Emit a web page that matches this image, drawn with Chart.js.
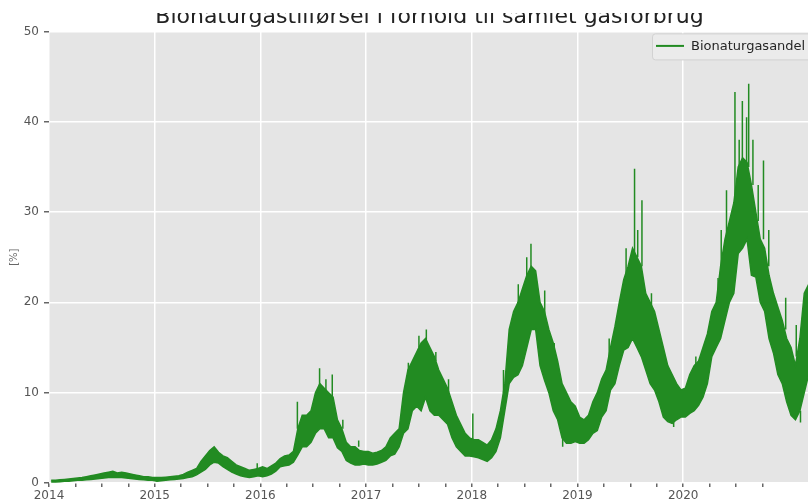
<!DOCTYPE html>
<html>
<head>
<meta charset="utf-8">
<script src="https://cdn.jsdelivr.net/npm/chart.js@4.4.1/dist/chart.umd.min.js"></script>
<style>
    html, body { margin: 0; padding: 0; background: #fff; overflow: hidden; }
    #wrap { position: relative; width: 808px; height: 503px; overflow: hidden; }
    /* the reference screenshot cuts off the top of the title */
    #titleMask { position: absolute; left: 0; top: 0; width: 808px; height: 13px; background: #fff; }
</style>
</head>
<body>
<div id="wrap">
    <canvas id="bioChart" width="812" height="503"></canvas>
    <div id="titleMask"></div>
</div>
<script>
const chartTitle = 'Bionaturgastilførsel i forhold til samlet gasforbrug';
const seriesLabel = 'Bionaturgasandel';
const yAxisLabel = '[%]';

// x axis in decimal years, right edge is cut a little after 2021
const xMin = 2014;
const xMax = 2021.2;
const yTicks = [0, 10, 20, 30, 40, 50];

// share in %, read per half month: bottom and top of the dense daily band
const years = [2014, 2015, 2016, 2017, 2018, 2019, 2020, 2021];

const lo2014 = [0.1, 0.1, 0.15, 0.2, 0.2, 0.25, 0.3, 0.3, 0.35, 0.4, 0.45, 0.5, 0.55, 0.6, 0.6, 0.6, 0.6, 0.55, 0.5, 0.45, 0.4, 0.35, 0.3, 0.3];
const hi2014 = [0.3, 0.3, 0.35, 0.4, 0.45, 0.5, 0.55, 0.6, 0.7, 0.8, 0.9, 1.0, 1.1, 1.2, 1.3, 1.1, 1.2, 1.1, 1.0, 0.9, 0.8, 0.7, 0.7, 0.6];

const lo2015 = [0.2, 0.25, 0.3, 0.35, 0.4, 0.45, 0.5, 0.6, 0.7, 0.9, 1.2, 1.5, 2.0, 2.3, 2.2, 1.8, 1.5, 1.2, 1.0, 0.8, 0.7, 0.6, 0.7, 0.8];
const hi2015 = [0.6, 0.6, 0.65, 0.7, 0.75, 0.8, 0.95, 1.2, 1.4, 1.6, 2.4, 3.0, 3.6, 4.0, 3.4, 3.0, 2.8, 2.4, 2.0, 1.8, 1.6, 1.4, 1.5, 1.6];

const lo2016 = [0.7, 0.8, 1.0, 1.3, 1.8, 1.9, 2.0, 2.3, 3.1, 4.0, 4.0, 4.5, 5.5, 6.0, 6.0, 5.0, 5.0, 3.9, 3.5, 2.5, 2.2, 2.0, 2.0, 2.1];
const hi2016 = [1.8, 1.6, 1.9, 2.2, 2.7, 3.0, 3.1, 3.5, 6.0, 7.5, 7.5, 8.0, 10.0, 11.0, 10.5, 10.0, 9.5, 7.0, 6.0, 4.5, 4.0, 4.0, 3.6, 3.5];

const lo2017 = [2.0, 2.0, 2.1, 2.3, 2.5, 3.0, 3.2, 4.0, 5.5, 6.0, 8.0, 8.5, 8.0, 9.5, 8.0, 7.5, 7.5, 7.0, 6.5, 5.0, 4.0, 3.5, 3.0, 3.0];
const hi2017 = [3.5, 3.3, 3.4, 3.6, 4.0, 5.0, 5.5, 6.0, 10.0, 12.5, 13.5, 14.5, 15.5, 16.0, 15.0, 14.0, 12.5, 11.5, 10.5, 9.0, 7.5, 6.5, 5.5, 5.0];

const lo2018 = [2.9, 2.8, 2.6, 2.4, 2.8, 3.5, 5.0, 8.0, 11.0, 11.7, 12.0, 13.0, 15.0, 17.0, 17.0, 13.0, 11.4, 10.0, 8.0, 7.0, 5.0, 4.4, 4.4, 4.6];
const hi2018 = [4.8, 4.8, 4.5, 4.2, 4.8, 6.0, 8.0, 11.0, 17.0, 19.0, 20.0, 21.5, 23.0, 24.0, 23.5, 20.0, 19.0, 17.0, 15.5, 13.5, 11.0, 10.0, 9.0, 8.5];

const lo2019 = [4.4, 4.4, 4.8, 5.5, 5.8, 7.3, 8.0, 10.3, 11.0, 13.0, 14.7, 15.0, 16.0, 15.0, 14.0, 12.5, 11.0, 10.3, 9.0, 7.3, 6.8, 6.6, 7.0, 7.3];
const hi2019 = [7.3, 7.0, 7.5, 9.0, 10.0, 11.5, 12.5, 15.0, 17.3, 20.0, 22.5, 24.0, 26.0, 25.0, 24.0, 21.0, 20.0, 19.0, 17.0, 15.0, 13.0, 12.0, 11.0, 10.3];

const lo2020 = [7.3, 7.7, 8.0, 8.6, 9.5, 11.0, 14.0, 15.0, 16.0, 18.0, 20.0, 21.0, 25.4, 26.0, 27.0, 23.0, 22.8, 20.0, 19.0, 16.0, 14.4, 12.0, 11.0, 9.0];
const hi2020 = [10.5, 12.0, 13.0, 13.5, 15.0, 16.5, 19.0, 20.0, 24.0, 27.0, 29.0, 31.0, 35.0, 36.0, 35.5, 33.0, 30.0, 27.0, 26.0, 23.0, 21.0, 19.5, 18.0, 16.0];

const lo2021 = [7.5, 7.0, 8.0, 10.0, 12.0];
const hi2021 = [15.0, 13.0, 16.0, 21.0, 22.0];

const lows = [lo2014, lo2015, lo2016, lo2017, lo2018, lo2019, lo2020, lo2021];
const highs = [hi2014, hi2015, hi2016, hi2017, hi2018, hi2019, hi2020, hi2021];

// single days that stick out of the band (from band edge to the day's value)
const spikeX = [2015.97, 2016.35, 2016.56, 2016.62, 2016.68, 2016.78, 2016.93,
                2017.40, 2017.50, 2017.57, 2017.66, 2017.78,
                2018.01, 2018.30, 2018.44, 2018.52, 2018.56, 2018.69, 2018.78, 2018.86,
                2019.30, 2019.37, 2019.46, 2019.54, 2019.57, 2019.61, 2019.70, 2019.91,
                2020.12, 2020.33, 2020.36, 2020.41, 2020.49, 2020.53, 2020.56, 2020.60, 2020.62,
                2020.66, 2020.71, 2020.76, 2020.81, 2020.97, 2021.07, 2021.11];
const spikeBase = [1.2, 6.0, 10.5, 10.0, 9.5, 6.0, 4.0,
                   11.0, 15.0, 15.5, 13.5, 10.0,
                   4.5, 10.0, 20.0, 22.5, 23.5, 18.0, 14.0, 5.5,
                   14.0, 16.0, 22.0, 25.0, 25.0, 24.0, 19.0, 7.0,
                   13.0, 20.0, 22.0, 26.0, 30.0, 33.0, 35.0, 35.0, 35.0,
                   33.0, 29.0, 27.0, 24.0, 17.0, 14.0, 8.0];
const spikeTop = [2.2, 9.0, 12.7, 11.5, 12.0, 7.0, 4.7,
                  13.3, 16.3, 17.0, 14.5, 11.5,
                  7.7, 12.5, 22.0, 25.0, 26.5, 21.3, 15.5, 4.0,
                  16.0, 17.3, 26.0, 34.8, 28.0, 31.3, 21.0, 6.2,
                  14.0, 22.7, 28.0, 32.4, 43.3, 38.0, 42.3, 40.5, 44.2,
                  38.0, 33.0, 35.7, 28.0, 20.5, 17.5, 6.7];

// band edges, one point per half month
const lowPoints = [];
const highPoints = [];
years.forEach((year, i) => {
    lows[i].forEach((low, k) => {
        const x = year + (k + 0.5) / 24;
        lowPoints.push({ x: x, y: low });
        highPoints.push({ x: x, y: highs[i][k] });
    });
});

// spikes as vertical strokes, separated by gaps
const spikePoints = [];
spikeX.forEach((x, i) => {
    spikePoints.push({ x: x, y: spikeBase[i] });
    spikePoints.push({ x: x, y: spikeTop[i] });
    spikePoints.push({ x: x, y: null });
});

const isYear = v => Math.abs(v - Math.round(v)) < 1e-6;
const isQuarter = v => Math.abs(v * 4 - Math.round(v * 4)) < 1e-6;

const green = '#228b22';
const tickFont = { family: 'DejaVu Sans', size: 12 };

// grey plot area like the ggplot style
const plotBackground = {
    id: 'plotBackground',
    beforeDraw(chart) {
        const { ctx, chartArea: a } = chart;
        ctx.save();
        ctx.fillStyle = '#e5e5e5';
        ctx.fillRect(a.left, a.top, a.right - a.left, a.bottom - a.top);
        ctx.restore();
    }
};

// legend inside the plot, upper right
const insideLegend = {
    id: 'insideLegend',
    afterDraw(chart) {
        const { ctx, chartArea: a } = chart;
        const ds = chart.data.datasets.find(d => d.label === seriesLabel);
        ctx.save();
        ctx.font = '13px "DejaVu Sans"';
        const boxW = 158;
        const boxH = 26;
        const x0 = a.right - boxW;
        const y0 = a.top + 2;
        ctx.fillStyle = '#ebebeb';
        ctx.strokeStyle = '#d2d2d2';
        ctx.lineWidth = 1;
        ctx.beginPath();
        ctx.roundRect(x0 + 0.5, y0 + 0.5, boxW + 10, boxH, 3);
        ctx.fill();
        ctx.stroke();
        ctx.strokeStyle = ds.borderColor;
        ctx.lineWidth = 2;
        ctx.beginPath();
        ctx.moveTo(x0 + 4, y0 + 12.5);
        ctx.lineTo(x0 + 32, y0 + 12.5);
        ctx.stroke();
        ctx.fillStyle = '#262626';
        ctx.textBaseline = 'middle';
        ctx.fillText(ds.label, x0 + 39, y0 + 13);
        ctx.restore();
    }
};

const config = {
    type: 'line',
    data: {
        datasets: [
            {
                label: seriesLabel + ' (min)',
                data: lowPoints,
                borderColor: green,
                borderWidth: 1.5,
                pointRadius: 0,
                fill: false
            },
            {
                label: seriesLabel,
                data: highPoints,
                borderColor: green,
                backgroundColor: green,
                borderWidth: 1.5,
                pointRadius: 0,
                fill: '-1'
            },
            {
                label: seriesLabel + ' (spidser)',
                data: spikePoints,
                borderColor: green,
                borderWidth: 1.5,
                pointRadius: 0,
                spanGaps: false,
                fill: false
            }
        ]
    },
    options: {
        responsive: false,
        animation: false,
        devicePixelRatio: 1,
        layout: { padding: { left: 3, right: 0, top: 0, bottom: 0 } },
        plugins: {
            legend: { display: false },
            tooltip: { enabled: false },
            title: {
                display: true,
                text: chartTitle,
                fullSize: false,
                color: '#222',
                font: { family: 'DejaVu Sans', size: 22, weight: 'normal' },
                padding: { top: 4, bottom: 1 }
            }
        },
        scales: {
            x: {
                type: 'linear',
                min: xMin,
                max: xMax,
                border: { display: false },
                grid: {
                    color: ctx => isYear(ctx.tick.value) ? '#ffffff' : 'rgba(0,0,0,0)',
                    tickColor: ctx => isQuarter(ctx.tick.value) ? '#666' : 'rgba(0,0,0,0)',
                    lineWidth: 1.5,
                    tickLength: 4
                },
                ticks: {
                    stepSize: 0.25,
                    autoSkip: false,
                    maxRotation: 0,
                    padding: 2,
                    color: '#555',
                    font: tickFont,
                    callback: v => isYear(v) ? String(Math.round(v)) : ''
                },
                afterFit(scale) { scale.height = 20; }
            },
            y: {
                min: yTicks[0],
                max: yTicks[yTicks.length - 1],
                border: { display: false },
                grid: { color: '#ffffff', lineWidth: 1.5, tickColor: '#666', tickLength: 5 },
                ticks: { stepSize: 10, padding: 5, color: '#555', font: tickFont },
                title: {
                    display: true,
                    text: yAxisLabel,
                    color: '#666',
                    font: { family: 'DejaVu Sans', size: 10 },
                    padding: { top: 5, bottom: 0 }
                },
                afterFit(scale) { scale.width = 46; }
            }
        }
    },
    plugins: [plotBackground, insideLegend]
};

const bioChart = new Chart(document.getElementById('bioChart'), config);
</script>
</body>
</html>
